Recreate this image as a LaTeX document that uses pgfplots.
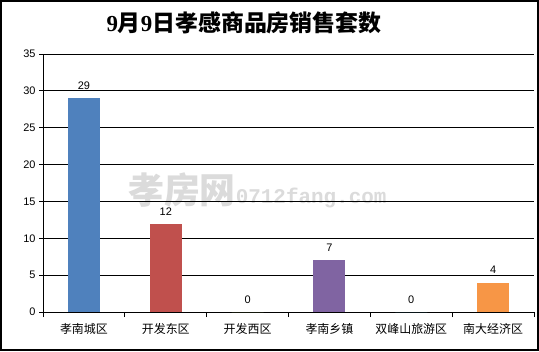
\documentclass[border=0pt]{standalone}
\usepackage{fontspec}
\setmainfont{Liberation Sans}
\newfontfamily\cjk{Noto Sans CJK SC}
\newfontfamily\serifb{Liberation Serif}
\newfontfamily\monof{Liberation Mono}
\usepackage{pgfplots}
\pgfplotsset{compat=1.18}
\definecolor{c1}{HTML}{4F81BD}
\definecolor{c2}{HTML}{C0504D}
\definecolor{c3}{HTML}{9BBB59}
\definecolor{c4}{HTML}{8064A2}
\definecolor{c5}{HTML}{4BACC6}
\definecolor{c6}{HTML}{F79646}
\begin{document}
\begin{tikzpicture}[x=1bp,y=1bp]
\useasboundingbox (0,0) rectangle (539,351);
\fill[white] (0,0) rectangle (539,351);
% watermark
\node[anchor=west,inner sep=0,text=gray!28] at (128,161) {{\cjk\bfseries\fontsize{36}{36}\selectfont 孝房网}{\monof\bfseries\fontsize{21}{21}\selectfont 0712fang.com}};
\begin{axis}[
  at={(43bp,39bp)}, anchor=south west,
  scale only axis, width=491bp, height=258bp,
  xmin=-0.5, xmax=5.5, ymin=0, ymax=35,
  axis x line*=bottom, axis y line*=left,
  axis line style={black, line width=0.8pt, -},
  ytick={0,5,...,35},
  ymajorgrids, grid style={black, line width=0.8pt},
  xtick={0,...,5},
  xticklabels={孝南城区,开发东区,开发西区,孝南乡镇,双峰山旅游区,南大经济区},
  minor xtick={-0.5,0.5,...,5.5},
  major x tick style={draw=none},
  minor tick length=5bp, major tick length=4bp,
  tick align=outside, tick pos=left,
  tick style={black, line width=0.8pt},
  xticklabel style={font=\cjk\fontsize{12}{12}\selectfont, yshift=-4bp},
  yticklabel style={font=\fontsize{11}{11}\selectfont},
  /pgf/number format/assume math mode=true,
  ybar, bar width=32bp, bar shift=0pt,
  nodes near coords,
  every node near coord/.append style={font=\fontsize{11}{11}\selectfont, yshift=5bp, text=black},
  clip=false,
]
\addplot[fill=c1, draw=none] coordinates {(0,29)};
\addplot[fill=c2, draw=none] coordinates {(1,12)};
\addplot[fill=c3, draw=none] coordinates {(2,0)};
\addplot[fill=c4, draw=none] coordinates {(3,7)};
\addplot[fill=c5, draw=none] coordinates {(4,0)};
\addplot[fill=c6, draw=none] coordinates {(5,4)};
\end{axis}
\node[anchor=center] at (244,328) {\fontsize{23}{23}\selectfont{\serifb\bfseries 9}{\cjk\bfseries 月}{\serifb\bfseries 9}{\cjk\bfseries 日孝感商品房销售套数}};
\draw[line width=2bp] (1,1) rectangle (538,350);
\end{tikzpicture}
\end{document}
